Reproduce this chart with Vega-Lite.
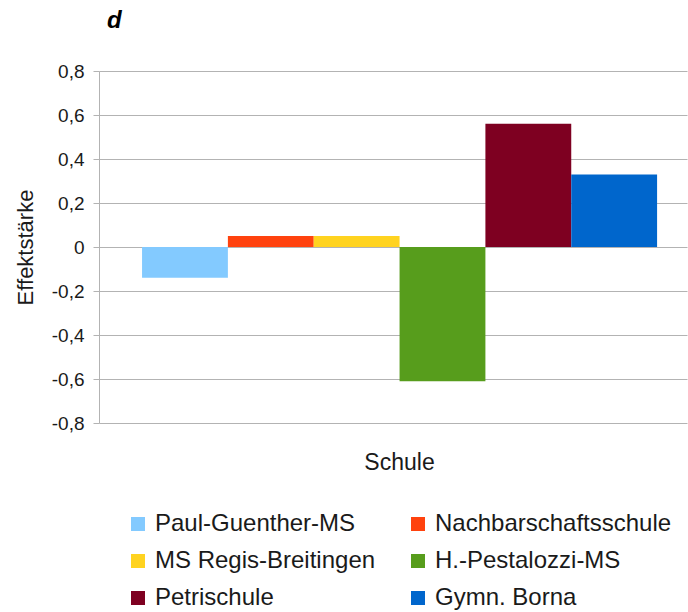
{
  "$schema": "https://vega.github.io/schema/vega-lite/v6.json",
  "autosize": {"type": "none"},
  "width": 588,
  "height": 352,
  "padding": {"left": 99, "top": 71, "right": 1, "bottom": 189},
  "background": "white",
  "config": {
    "font": "Liberation Sans",
    "view": {"stroke": null}
  },
  "title": {
    "text": "d",
    "anchor": "start",
    "frame": "group",
    "fontSize": 24,
    "fontStyle": "italic",
    "fontWeight": "bold",
    "color": "#000000",
    "dx": 8,
    "offset": 29
  },
  "data": {
    "values": [
      {"Schule": "Paul-Guenther-MS", "Effekt": -0.14},
      {"Schule": "Nachbarschaftsschule", "Effekt": 0.05},
      {"Schule": "MS Regis-Breitingen", "Effekt": 0.05},
      {"Schule": "H.-Pestalozzi-MS", "Effekt": -0.61},
      {"Schule": "Petrischule", "Effekt": 0.56},
      {"Schule": "Gymn. Borna", "Effekt": 0.33}
    ]
  },
  "mark": {"type": "bar"},
  "encoding": {
    "x": {
      "field": "Schule",
      "type": "nominal",
      "sort": null,
      "scale": {"paddingInner": 0, "paddingOuter": 0.425, "align": 0.59},
      "axis": {
        "labels": false,
        "ticks": false,
        "domain": false,
        "title": "Schule",
        "titleFontSize": 23,
        "titleFontWeight": "normal",
        "titleColor": "#1a1a1a",
        "titlePadding": 28,
        "titleX": 300
      }
    },
    "y": {
      "field": "Effekt",
      "type": "quantitative",
      "scale": {"domain": [-0.8, 0.8], "nice": false},
      "axis": {
        "values": [-0.8, -0.6, -0.4, -0.2, 0, 0.2, 0.4, 0.6, 0.8],
        "labelExpr": "datum.value == 0 ? '0' : (datum.value < 0 ? '-' : '') + replace(format(abs(datum.value), '.1f'), '.', ',')",
        "labelFontSize": 19,
        "labelColor": "#1a1a1a",
        "labelPadding": 9,
        "tickSize": 6,
        "tickColor": "#b3b3b3",
        "domainColor": "#b3b3b3",
        "gridColor": "#b3b3b3",
        "title": "Effektstärke",
        "titleFontSize": 22,
        "titleFontWeight": "normal",
        "titleColor": "#1a1a1a",
        "titlePadding": 14
      }
    },
    "color": {
      "field": "Schule",
      "type": "nominal",
      "sort": null,
      "scale": {
        "domain": ["Paul-Guenther-MS", "Nachbarschaftsschule", "MS Regis-Breitingen", "H.-Pestalozzi-MS", "Petrischule", "Gymn. Borna"],
        "range": ["#83caff", "#ff420e", "#ffd320", "#579d1c", "#7e0021", "#0066cc"]
      },
      "legend": {
        "orient": "none",
        "direction": "horizontal",
        "legendX": 27,
        "legendY": 441,
        "columns": 2,
        "title": null,
        "symbolType": "square",
        "symbolSize": 196,
        "symbolStrokeWidth": 0,
        "labelFontSize": 24,
        "labelColor": "#1a1a1a",
        "labelOffset": 5,
        "rowPadding": 13,
        "columnPadding": 30,
        "labelLimit": 400
      }
    }
  }
}
